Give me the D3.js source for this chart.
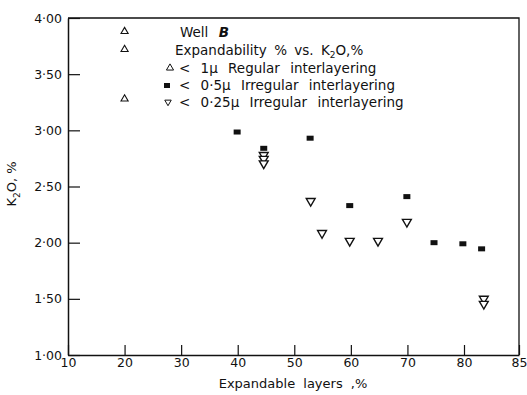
<!DOCTYPE html>
<html>
<head>
<meta charset="utf-8">
<script src="https://cdn.jsdelivr.net/npm/d3@7"></script>
<style>
  body { margin: 0; background: #fff; overflow: hidden; }
  svg { display: block; }
  text { font-family: "DejaVu Sans", sans-serif; fill: #111; }
</style>
</head>
<body>
<div id="viz"></div>
<script>
// tick values
const xTicks = [10, 20, 30, 40, 50, 60, 70, 80, 85];
const yTicks = [1.0, 1.5, 2.0, 2.5, 3.0, 3.5, 4.0];

// < 1 micron, regular interlayering (open triangles up)
const regularX = [20, 20, 20];
const regularK = [3.88, 3.72, 3.28];

// < 0.5 micron, irregular interlayering (filled squares)
const irr05X = [39.9, 44.6, 52.8, 59.8, 69.9, 74.7, 79.8, 81.6];
const irr05K = [2.985, 2.84, 2.93, 2.33, 2.41, 2.0, 1.99, 1.945];

// < 0.25 micron, irregular interlayering (open triangles down)
const irr025X = [44.6, 44.6, 44.6, 52.9, 54.9, 59.8, 64.8, 69.9, 81.8, 81.8];
const irr025K = [2.78, 2.745, 2.705, 2.37, 2.085, 2.015, 2.015, 2.185, 1.50, 1.455];

const width = 527;
const height = 395;
const margin = {top: 18, right: 8, bottom: 40, left: 68};
const innerWidth = width - margin.left - margin.right;
const innerHeight = height - margin.top - margin.bottom;

const svg = d3.select("#viz")
    .append("svg")
    .attr("width", width)
    .attr("height", height);

// the printed axis squeezes 80-85 into the last stretch
const xScale = d3.scaleLinear()
    .domain([10, 80, 85])
    .range([0, innerWidth * 396 / 451, innerWidth]);

const yScale = d3.scaleLinear()
    .domain([1, 4])
    .range([innerHeight, 0]);

const g = svg.append("g")
    .attr("transform", `translate(${margin.left}, ${margin.top})`);

const fmt = d => d3.format(".2f")(d).replace(".", "\u00b7");

// frame top + right
g.append("path")
    .attr("d", `M0,0H${innerWidth}V${innerHeight}`)
    .attr("fill", "none")
    .attr("stroke", "#111")
    .attr("stroke-width", 1.3);

const yAxis = g.append("g")
    .call(d3.axisLeft(yScale).tickValues(yTicks).tickFormat(fmt)
        .tickSizeInner(-12).tickSizeOuter(0).tickPadding(6));

const xAxis = g.append("g")
    .attr("transform", `translate(0, ${innerHeight})`)
    .call(d3.axisBottom(xScale).tickValues(xTicks).tickFormat(d3.format("d"))
        .tickSizeInner(-10).tickSizeOuter(0).tickPadding(3));

[yAxis, xAxis].forEach(ax => {
    ax.select(".domain").attr("stroke", "#111").attr("stroke-width", 1.5);
    ax.selectAll(".tick line").attr("stroke", "#111").attr("stroke-width", 1.2);
    ax.selectAll(".tick text")
        .attr("font-size", 12.5)
        .attr("font-family", "DejaVu Sans, sans-serif")
        .attr("fill", "#111");
});

// axis titles
svg.append("text")
    .attr("x", 293)
    .attr("y", 388)
    .attr("text-anchor", "middle")
    .attr("font-size", 13)
    .attr("word-spacing", 4)
    .text("Expandable layers ,%");

const yLab = svg.append("text")
    .attr("transform", "translate(16, 184) rotate(-90)")
    .attr("text-anchor", "middle")
    .attr("font-size", 13);
yLab.append("tspan").text("K");
yLab.append("tspan").attr("font-size", 9).attr("dy", 4).text("2");
yLab.append("tspan").attr("dy", -4).text("O, %");

// markers
const triUp = d3.symbol().type(d3.symbolTriangle).size(22);
const triDown = d3.symbol().type(d3.symbolTriangle).size(34);

g.selectAll(".reg").data(regularX)
    .enter().append("path")
    .attr("class", "reg")
    .attr("d", triUp)
    .attr("transform", (d, i) => `translate(${xScale(d)}, ${yScale(regularK[i])})`)
    .attr("fill", "none")
    .attr("stroke", "#111")
    .attr("stroke-width", 1.1);

g.selectAll(".irr05").data(irr05X)
    .enter().append("rect")
    .attr("class", "irr05")
    .attr("x", d => xScale(d) - 3.5)
    .attr("y", (d, i) => yScale(irr05K[i]) - 2.5)
    .attr("width", 7)
    .attr("height", 5)
    .attr("fill", "#111");

g.selectAll(".irr025").data(irr025X)
    .enter().append("path")
    .attr("class", "irr025")
    .attr("d", triDown)
    .attr("transform", (d, i) => `translate(${xScale(d)}, ${yScale(irr025K[i])}) rotate(180)`)
    .attr("fill", "#fff")
    .attr("stroke", "#111")
    .attr("stroke-width", 1.4);

// legend block
const leg = svg.append("g").attr("font-size", 13.5).attr("word-spacing", 6);

const l1 = leg.append("text").attr("x", 180).attr("y", 37);
l1.append("tspan").text("Well  ");
l1.append("tspan").attr("font-style", "italic").attr("font-weight", "bold").text("B");

const l2 = leg.append("text").attr("x", 175).attr("y", 55).attr("word-spacing", 3);
l2.append("tspan").text("Expandability % vs. K");
l2.append("tspan").attr("font-size", 9).attr("dy", 3).text("2");
l2.append("tspan").attr("dy", -3).text("O,%");

leg.append("path").attr("d", triUp)
    .attr("transform", "translate(170, 68)")
    .attr("fill", "none").attr("stroke", "#111").attr("stroke-width", 1);
leg.append("text").attr("x", 179).attr("y", 73)
    .text("< 1\u03bc Regular  interlayering");

leg.append("rect").attr("x", 164).attr("y", 83).attr("width", 6).attr("height", 5)
    .attr("fill", "#111");
leg.append("text").attr("x", 179).attr("y", 90)
    .text("< 0\u00b75\u03bc Irregular  interlayering");

leg.append("path").attr("d", d3.symbol().type(d3.symbolTriangle).size(18))
    .attr("transform", "translate(168, 102) rotate(180)")
    .attr("fill", "none").attr("stroke", "#111").attr("stroke-width", 1);
leg.append("text").attr("x", 179).attr("y", 107)
    .text("< 0\u00b725\u03bc Irregular  interlayering");
</script>
</body>
</html>
